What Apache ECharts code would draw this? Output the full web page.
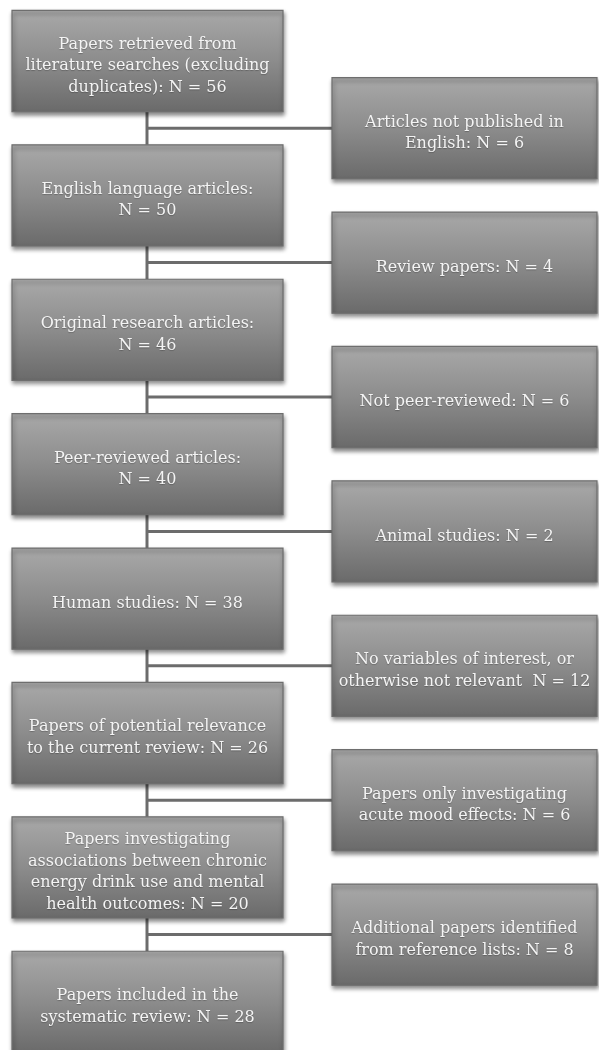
<!DOCTYPE html>
<html><head><meta charset="utf-8">
<script src="https://cdn.jsdelivr.net/npm/echarts@6/dist/echarts.min.js"></script>
<style>html,body{margin:0;padding:0;background:#fff}#c{width:599px;height:1050px}</style>
</head><body><div id="c"></div>
<script>
// Main flow (left column), top to bottom
const mainSteps = [
  "Papers retrieved from\nliterature searches (excluding\nduplicates): N = 56",
  "English language articles:\nN = 50",
  "Original research articles:\nN = 46",
  "Peer-reviewed articles:\nN = 40",
  "Human studies: N = 38",
  "Papers of potential relevance\nto the current review: N = 26",
  "Papers investigating\nassociations between chronic\nenergy drink use and mental\nhealth outcomes: N = 20",
  "Papers included in the\nsystematic review: N = 28"
];
// Side boxes (right column), between consecutive main steps
const sideSteps = [
  "Articles not published in\nEnglish: N = 6",
  "Review papers: N = 4",
  "Not peer-reviewed: N = 6",
  "Animal studies: N = 2",
  "No variables of interest, or\notherwise not relevant  N = 12",
  "Papers only investigating\nacute mood effects: N = 6",
  "Additional papers identified\nfrom reference lists: N = 8"
];

const mainData = mainSteps.map((t, i) => [0, i, t]);
const sideData = sideSteps.map((t, i) => [1, i + 0.5, t]);
const linkData = sideSteps.map((t, i) => [i]);

const colLeft = [12, 332];
const colRight = [283, 597];
const trunkX = 147;
const halfH = 0.376;

function boxItem(params, api) {
  const col = api.value(0), row = api.value(1);
  const text = api.value(2);
  const p0 = api.coord([colLeft[col], row - halfH]);
  const p1 = api.coord([colRight[col], row + halfH]);
  const w = p1[0] - p0[0], h = p1[1] - p0[1];
  return {
    type: 'group',
    children: [
      {
        type: 'rect',
        shape: { x: p0[0], y: p0[1], width: w, height: h },
        style: {
          fill: new echarts.graphic.LinearGradient(0, 0, 0, 1, [
            { offset: 0, color: '#a9a9a9' },
            { offset: 0.5, color: '#8c8c8c' },
            { offset: 1, color: '#6a6a6a' }
          ]),
          stroke: '#6e6e6e',
          lineWidth: 1.2,
          shadowBlur: 4,
          shadowOffsetY: 3,
          shadowOffsetX: 1,
          shadowColor: 'rgba(0,0,0,0.45)'
        }
      },
      {
        type: 'text',
        x: p0[0] + w / 2,
        y: p0[1] + h / 2 + 5,
        style: {
          text: text,
          fill: '#f4f4f4',
          font: '16px "DejaVu Serif", "Liberation Serif", serif',
          lineHeight: 21.5,
          align: 'center',
          verticalAlign: 'middle',
          textShadowColor: 'rgba(0,0,0,0.25)',
          textShadowBlur: 1,
          textShadowOffsetY: 1
        }
      }
    ]
  };
}

function linkItem(params, api) {
  const i = api.value(0);
  const a = api.coord([trunkX, i + halfH]);
  const b = api.coord([trunkX, i + 1 - halfH]);
  const m = api.coord([trunkX, i + 0.5]);
  const r = api.coord([colLeft[1], i + 0.5]);
  const st = { stroke: '#6c6c6c', lineWidth: 3 };
  return {
    type: 'group',
    children: [
      { type: 'line', shape: { x1: a[0], y1: a[1], x2: b[0], y2: b[1] }, style: st },
      { type: 'line', shape: { x1: m[0], y1: m[1], x2: r[0], y2: r[1] }, style: st }
    ]
  };
}

const chart = echarts.init(document.getElementById('c'), null, { renderer: 'canvas' });
chart.setOption({
  backgroundColor: '#ffffff',
  animation: false,
  grid: { left: 0, right: 0, top: 0, bottom: 0 },
  xAxis: { type: 'value', min: 0, max: 599, show: false },
  yAxis: { type: 'value', min: -0.4539, max: 7.3586, inverse: true, show: false },
  series: [
    { type: 'custom', renderItem: linkItem, data: linkData, z: 1, silent: true },
    { type: 'custom', renderItem: boxItem, data: mainData, z: 2, silent: true },
    { type: 'custom', renderItem: boxItem, data: sideData, z: 2, silent: true }
  ]
});
</script></body></html>
